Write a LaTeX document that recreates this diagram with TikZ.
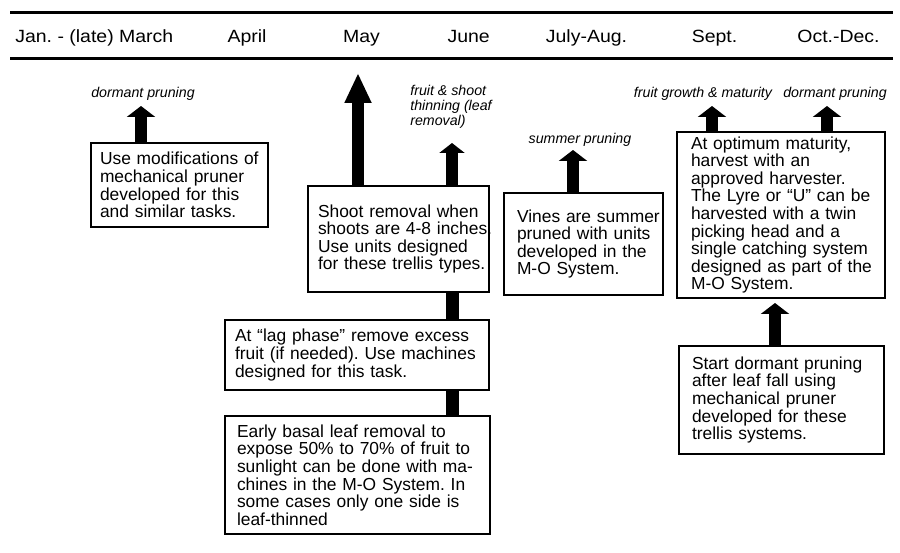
\documentclass[tikz,border=0pt]{standalone}
\usepackage{fontspec}
\setmainfont{Liberation Sans}
\newfontfamily\hdrfont[FakeStretch=1.1]{Liberation Sans}
\usetikzlibrary{arrows.meta}
\frenchspacing
\begin{document}
\begin{tikzpicture}[x=1pt,y=-1pt,
  box/.style={draw, line width=1.4pt, align=left, inner xsep=0pt, inner ysep=0pt,
    font=\fontsize{17.4}{17.6}\selectfont\frenchspacing},
  lbl/.style={font=\fontsize{14.2}{15}\selectfont\itshape, inner sep=0pt},
  hdr/.style={font=\hdrfont\fontsize{17.7}{20}\selectfont, anchor=base, inner sep=0pt},
  uparrow/.style={line width=12pt, -{Triangle[width=28pt,length=11pt]}},
  bigarrow/.style={line width=12pt, -{Triangle[width=25pt,length=30pt]}},
  barlink/.style={line width=13pt},
  rule/.style={line width=3pt}]
\useasboundingbox (0,0) rectangle (900,553);

% header rules
\coordinate (r1a) at (10,13);
\coordinate (r1b) at (893,13);
\coordinate (r2a) at (10,59);
\coordinate (r2b) at (893,59);
\draw[rule] (r1a) -- (r1b);
\draw[rule] (r2a) -- (r2b);

% month headings
\node[hdr] (m1) at (94.3,43) {Jan. - (late) March};
\node[hdr] (m2) at (247,43) {April};
\node[hdr] (m3) at (361.5,43) {May};
\node[hdr] (m4) at (468.7,43) {June};
\node[hdr] (m5) at (586.5,43) {July-Aug.};
\node[hdr] (m6) at (714.5,43) {Sept.};
\node[hdr] (m7) at (838.5,43) {Oct.-Dec.};

% boxes
\node[box, minimum width=177pt, minimum height=84pt, text width=159pt] (b1) at (179.5,185)
  {\mbox{Use modifications of}\\\mbox{mechanical pruner}\\\mbox{developed for this}\\\mbox{and similar tasks.}};
\node[box, minimum width=181pt, minimum height=106pt, text width=161pt] (b2) at (398.5,239)
  {\mbox{Shoot removal when}\\\mbox{shoots are 4-8 inches.}\\\mbox{Use units designed}\\\mbox{for these trellis types.}};
\node[box, minimum width=264pt, minimum height=70pt, text width=244pt] (b3) at (357,355)
  {\mbox{At “lag phase” remove excess}\\\mbox{fruit (if needed). Use machines}\\\mbox{designed for this task.}};
\node[box, minimum width=265pt, minimum height=118pt, text width=241pt] (b4) at (357.5,475)
  {\mbox{Early basal leaf removal to}\\\mbox{expose 50\% to 70\% of fruit to}\\\mbox{sunlight can be done with ma-}\\\mbox{chines in the M-O System. In}\\\mbox{some cases only one side is}\\\mbox{leaf-thinned}};
\node[box, minimum width=159pt, minimum height=102pt, text width=133pt] (b5) at (583.5,244)
  {\mbox{Vines are summer}\\\mbox{pruned with units}\\\mbox{developed in the}\\\mbox{M-O System.}};
\node[box, minimum width=208pt, minimum height=166pt, text width=180pt] (b6) at (781,215)
  {\mbox{At optimum maturity,}\\\mbox{harvest with an}\\\mbox{approved harvester.}\\\mbox{The Lyre or “U” can be}\\\mbox{harvested with a twin}\\\mbox{picking head and a}\\\mbox{single catching system}\\\mbox{designed as part of the}\\\mbox{M-O System.}};
\node[box, minimum width=205pt, minimum height=108pt, text width=179pt] (b7) at (781.5,400)
  {\mbox{Start dormant pruning}\\\mbox{after leaf fall using}\\\mbox{mechanical pruner}\\\mbox{developed for these}\\\mbox{trellis systems.}};

% labels
\node[lbl] (l1) at (143,94) {dormant pruning};
\node[lbl, align=left] (l2) at (451,107) {fruit \& shoot\\thinning (leaf\\removal)};
\node[lbl] (l3) at (580,140) {summer pruning};
\node[lbl] (l4) at (703,94) {fruit growth \& maturity};
\node[lbl] (l5) at (835,94) {dormant pruning};

% arrow tips and link columns
\coordinate (t1) at (141,106);
\coordinate (t2) at (358,73);
\coordinate (t3) at (452,143);
\coordinate (t4) at (573,150);
\coordinate (t5) at (712,106);
\coordinate (t6) at (827,106);
\coordinate (t7) at (775,303);
\coordinate (cx) at (452,0);

\draw[uparrow] (b1.north -| t1) -- (t1);
\draw[bigarrow] (b2.north -| t2) -- (t2);
\draw[line width=12pt, -{Triangle[width=25pt,length=10pt]}] (b2.north -| t3) -- (t3);
\draw[uparrow] (b5.north -| t4) -- (t4);
\draw[uparrow] (b6.north -| t5) -- (t5);
\draw[uparrow] (b6.north -| t6) -- (t6);
\draw[uparrow] (b7.north -| t7) -- (t7);
\draw[barlink] (b2.south -| cx) -- (b3.north -| cx);
\draw[barlink] (b3.south -| cx) -- (b4.north -| cx);
\end{tikzpicture}
\end{document}
